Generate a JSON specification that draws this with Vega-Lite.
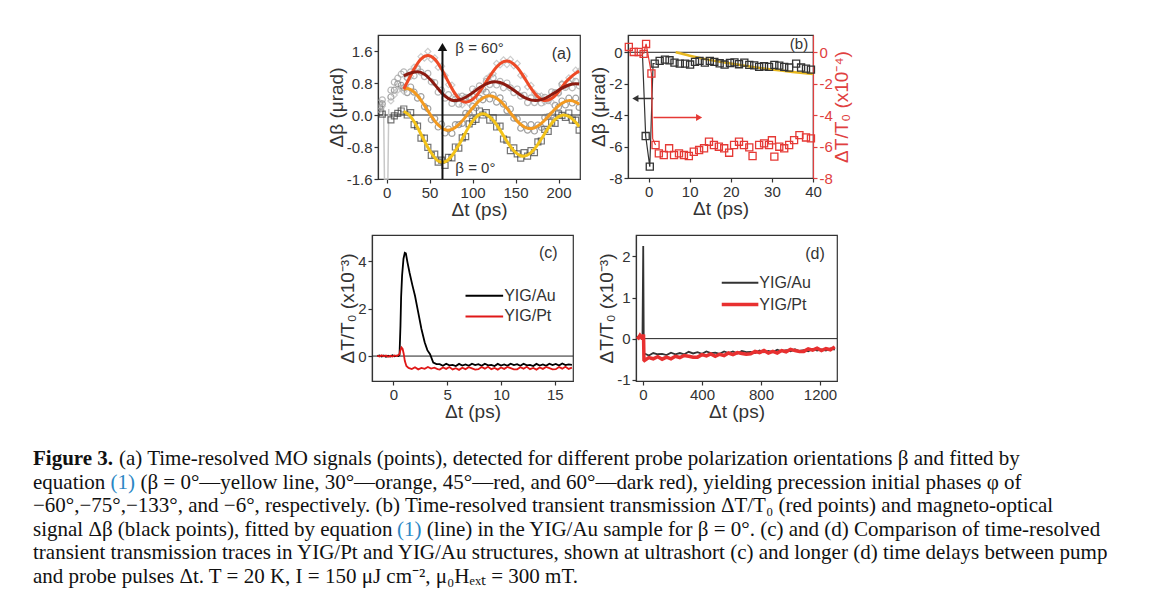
{
"$schema": "https://vega.github.io/schema/vega-lite/v6.json",
"padding": {"left": 33, "top": 34, "right": 0, "bottom": 0},
"background": "white",
"spacing": 14,
"config": {
  "font": "Liberation Sans",
  "view": {"stroke": null},
  "axis": {"labelFont": "Liberation Sans", "labelFontSize": 15, "labelColor": "#333", "titleFont": "Liberation Sans", "titleFontSize": 19, "titleFontWeight": "normal", "titleColor": "#333", "domainColor": "#333", "domainWidth": 1.2, "tickColor": "#333", "tickSize": 4, "tickWidth": 1.2, "grid": false, "labelPadding": 2, "titlePadding": 0, "labelFlush": false, "labelOverlap": false}
},
"datasets": {
  "a_pts": [
    {"s":"0","t":-8,"v":0.08},{"s":"0","t":-5,"v":0.02},{"s":"0","t":5,"v":-0.12},{"s":"0","t":9,"v":-0.02},{"s":"0","t":13,"v":0.04},{"s":"0","t":17,"v":0.1},
    {"s":"0","t":20,"v":0.15},{"s":"0","t":24,"v":0.0},{"s":"0","t":28,"v":0.06},{"s":"0","t":32,"v":-0.24},{"s":"0","t":36,"v":-0.28},{"s":"0","t":40,"v":-0.58},{"s":"0","t":44,"v":-0.58},{"s":"0","t":48,"v":-0.81},{"s":"0","t":52,"v":-1.01},{"s":"0","t":56,"v":-0.98},{"s":"0","t":60,"v":-1.18},{"s":"0","t":64,"v":-1.13},{"s":"0","t":68,"v":-1.26},{"s":"0","t":72,"v":-1.06},{"s":"0","t":76,"v":-1.07},{"s":"0","t":80,"v":-0.8},{"s":"0","t":84,"v":-0.83},{"s":"0","t":88,"v":-0.57},{"s":"0","t":92,"v":-0.54},{"s":"0","t":96,"v":-0.22},{"s":"0","t":100,"v":-0.16},{"s":"0","t":104,"v":-0.11},{"s":"0","t":108,"v":0.1},{"s":"0","t":112,"v":0.0},{"s":"0","t":116,"v":0.06},{"s":"0","t":120,"v":-0.13},{"s":"0","t":124,"v":-0.07},{"s":"0","t":128,"v":-0.3},{"s":"0","t":132,"v":-0.28},{"s":"0","t":136,"v":-0.6},{"s":"0","t":140,"v":-0.63},{"s":"0","t":144,"v":-0.89},{"s":"0","t":148,"v":-0.82},{"s":"0","t":152,"v":-0.97},{"s":"0","t":156,"v":-1.08},{"s":"0","t":160,"v":-0.94},{"s":"0","t":164,"v":-1.03},{"s":"0","t":168,"v":-0.89},{"s":"0","t":172,"v":-0.94},{"s":"0","t":176,"v":-0.67},{"s":"0","t":180,"v":-0.65},{"s":"0","t":184,"v":-0.36},{"s":"0","t":188,"v":-0.41},{"s":"0","t":192,"v":-0.18},{"s":"0","t":196,"v":-0.21},{"s":"0","t":200,"v":0.03},{"s":"0","t":204,"v":-0.01},{"s":"0","t":208,"v":-0.06},{"s":"0","t":212,"v":0.05},{"s":"0","t":216,"v":-0.13},{"s":"0","t":220,"v":-0.13},{"s":"0","t":224,"v":-0.38},
    {"s":"30","t":-8,"v":0.2},{"s":"30","t":-5,"v":0.28},{"s":"30","t":5,"v":0.45},{"s":"30","t":9,"v":0.62},{"s":"30","t":13,"v":0.78},{"s":"30","t":17,"v":0.74},
    {"s":"30","t":20,"v":0.68},{"s":"30","t":24,"v":0.56},{"s":"30","t":28,"v":0.7},{"s":"30","t":32,"v":0.57},{"s":"30","t":36,"v":0.42},{"s":"30","t":40,"v":0.46},{"s":"30","t":44,"v":0.21},{"s":"30","t":48,"v":0.16},{"s":"30","t":52,"v":-0.12},{"s":"30","t":56,"v":-0.09},{"s":"30","t":60,"v":-0.3},{"s":"30","t":64,"v":-0.23},{"s":"30","t":68,"v":-0.45},{"s":"30","t":72,"v":-0.35},{"s":"30","t":76,"v":-0.46},{"s":"30","t":80,"v":-0.24},{"s":"30","t":84,"v":-0.24},{"s":"30","t":88,"v":-0.21},{"s":"30","t":92,"v":0.04},{"s":"30","t":96,"v":0.03},{"s":"30","t":100,"v":0.22},{"s":"30","t":104,"v":0.18},{"s":"30","t":108,"v":0.42},{"s":"30","t":112,"v":0.38},{"s":"30","t":116,"v":0.57},{"s":"30","t":120,"v":0.4},{"s":"30","t":124,"v":0.5},{"s":"30","t":128,"v":0.32},{"s":"30","t":132,"v":0.43},{"s":"30","t":136,"v":0.27},{"s":"30","t":140,"v":0.11},{"s":"30","t":144,"v":0.15},{"s":"30","t":148,"v":-0.08},{"s":"30","t":152,"v":-0.1},{"s":"30","t":156,"v":-0.33},{"s":"30","t":160,"v":-0.24},{"s":"30","t":164,"v":-0.38},{"s":"30","t":168,"v":-0.24},{"s":"30","t":172,"v":-0.4},{"s":"30","t":176,"v":-0.25},{"s":"30","t":180,"v":-0.31},{"s":"30","t":184,"v":-0.06},{"s":"30","t":188,"v":-0.04},{"s":"30","t":192,"v":0.0},{"s":"30","t":196,"v":0.24},{"s":"30","t":200,"v":0.2},{"s":"30","t":204,"v":0.35},{"s":"30","t":208,"v":0.25},{"s":"30","t":212,"v":0.42},{"s":"30","t":216,"v":0.3},{"s":"30","t":220,"v":0.42},{"s":"30","t":224,"v":0.19},
    {"s":"45","t":-8,"v":0.12},{"s":"45","t":-5,"v":0.22},{"s":"45","t":5,"v":0.35},{"s":"45","t":9,"v":0.5},{"s":"45","t":13,"v":0.62},{"s":"45","t":17,"v":0.66},
    {"s":"45","t":20,"v":0.59},{"s":"45","t":24,"v":0.91},{"s":"45","t":28,"v":0.96},{"s":"45","t":32,"v":1.2},{"s":"45","t":36,"v":1.2},{"s":"45","t":40,"v":1.46},{"s":"45","t":44,"v":1.42},{"s":"45","t":48,"v":1.59},{"s":"45","t":52,"v":1.39},{"s":"45","t":56,"v":1.43},{"s":"45","t":60,"v":1.19},{"s":"45","t":64,"v":1.22},{"s":"45","t":68,"v":0.99},{"s":"45","t":72,"v":0.76},{"s":"45","t":76,"v":0.75},{"s":"45","t":80,"v":0.49},{"s":"45","t":84,"v":0.46},{"s":"45","t":88,"v":0.25},{"s":"45","t":92,"v":0.38},{"s":"45","t":96,"v":0.29},{"s":"45","t":100,"v":0.49},{"s":"45","t":104,"v":0.39},{"s":"45","t":108,"v":0.61},{"s":"45","t":112,"v":0.6},{"s":"45","t":116,"v":0.91},{"s":"45","t":120,"v":0.97},{"s":"45","t":124,"v":1.03},{"s":"45","t":128,"v":1.29},{"s":"45","t":132,"v":1.25},{"s":"45","t":136,"v":1.38},{"s":"45","t":140,"v":1.26},{"s":"45","t":144,"v":1.39},{"s":"45","t":148,"v":1.23},{"s":"45","t":152,"v":1.29},{"s":"45","t":156,"v":0.99},{"s":"45","t":160,"v":0.97},{"s":"45","t":164,"v":0.7},{"s":"45","t":168,"v":0.74},{"s":"45","t":172,"v":0.55},{"s":"45","t":176,"v":0.4},{"s":"45","t":180,"v":0.48},{"s":"45","t":184,"v":0.33},{"s":"45","t":188,"v":0.42},{"s":"45","t":192,"v":0.32},{"s":"45","t":196,"v":0.54},{"s":"45","t":200,"v":0.53},{"s":"45","t":204,"v":0.79},{"s":"45","t":208,"v":0.73},{"s":"45","t":212,"v":0.93},{"s":"45","t":216,"v":0.88},{"s":"45","t":220,"v":1.12},{"s":"45","t":224,"v":1.1},
    {"s":"60","t":-8,"v":0.3},{"s":"60","t":-5,"v":0.38},{"s":"60","t":5,"v":0.62},{"s":"60","t":9,"v":0.82},{"s":"60","t":13,"v":0.92},{"s":"60","t":17,"v":1.02},
    {"s":"60","t":20,"v":1.08},{"s":"60","t":24,"v":0.94},{"s":"60","t":28,"v":1.08},{"s":"60","t":32,"v":0.98},{"s":"60","t":36,"v":1.15},{"s":"60","t":40,"v":1.07},{"s":"60","t":44,"v":0.96},{"s":"60","t":48,"v":1.04},{"s":"60","t":52,"v":0.83},{"s":"60","t":56,"v":0.81},{"s":"60","t":60,"v":0.57},{"s":"60","t":64,"v":0.62},{"s":"60","t":68,"v":0.42},{"s":"60","t":72,"v":0.51},{"s":"60","t":76,"v":0.29},{"s":"60","t":80,"v":0.39},{"s":"60","t":84,"v":0.27},{"s":"60","t":88,"v":0.47},{"s":"60","t":92,"v":0.44},{"s":"60","t":96,"v":0.44},{"s":"60","t":100,"v":0.65},{"s":"60","t":104,"v":0.59},{"s":"60","t":108,"v":0.73},{"s":"60","t":112,"v":0.65},{"s":"60","t":116,"v":0.84},{"s":"60","t":120,"v":0.76},{"s":"60","t":124,"v":0.93},{"s":"60","t":128,"v":0.75},{"s":"60","t":132,"v":0.84},{"s":"60","t":136,"v":0.68},{"s":"60","t":140,"v":0.8},{"s":"60","t":144,"v":0.68},{"s":"60","t":148,"v":0.56},{"s":"60","t":152,"v":0.65},{"s":"60","t":156,"v":0.47},{"s":"60","t":160,"v":0.49},{"s":"60","t":164,"v":0.31},{"s":"60","t":168,"v":0.43},{"s":"60","t":172,"v":0.31},{"s":"60","t":176,"v":0.46},{"s":"60","t":180,"v":0.3},{"s":"60","t":184,"v":0.44},{"s":"60","t":188,"v":0.36},{"s":"60","t":192,"v":0.58},{"s":"60","t":196,"v":0.56},{"s":"60","t":200,"v":0.56},{"s":"60","t":204,"v":0.76},{"s":"60","t":208,"v":0.69},{"s":"60","t":212,"v":0.8},{"s":"60","t":216,"v":0.68},{"s":"60","t":220,"v":0.84},{"s":"60","t":224,"v":0.73}
  ],
  "a_fit": [
    {"s":"0","t":20,"v":0.094},{"s":"0","t":28,"v":-0.04},{"s":"0","t":36,"v":-0.31},{"s":"0","t":44,"v":-0.65},{"s":"0","t":52,"v":-0.95},{"s":"0","t":60,"v":-1.15},{"s":"0","t":65,"v":-1.18},{"s":"0","t":68,"v":-1.17},{"s":"0","t":76,"v":-1.02},{"s":"0","t":84,"v":-0.75},{"s":"0","t":92,"v":-0.435},{"s":"0","t":100,"v":-0.155},{"s":"0","t":108,"v":0.009},{"s":"0","t":112,"v":0.03},{"s":"0","t":116,"v":0.011},{"s":"0","t":124,"v":-0.132},{"s":"0","t":132,"v":-0.377},{"s":"0","t":140,"v":-0.657},{"s":"0","t":148,"v":-0.894},{"s":"0","t":156,"v":-1.019},{"s":"0","t":159,"v":-1.03},{"s":"0","t":164,"v":-1.0},{"s":"0","t":172,"v":-0.848},{"s":"0","t":180,"v":-0.6},{"s":"0","t":188,"v":-0.33},{"s":"0","t":196,"v":-0.11},{"s":"0","t":204,"v":-0.005},{"s":"0","t":206,"v":0.0},{"s":"0","t":212,"v":-0.036},{"s":"0","t":220,"v":-0.183},{"s":"0","t":224,"v":-0.29},
    {"s":"30","t":20,"v":0.65},{"s":"30","t":23,"v":0.66},{"s":"30","t":28,"v":0.632},{"s":"30","t":36,"v":0.483},{"s":"30","t":44,"v":0.241},{"s":"30","t":52,"v":-0.027},{"s":"30","t":60,"v":-0.251},{"s":"30","t":68,"v":-0.37},{"s":"30","t":71,"v":-0.38},{"s":"30","t":76,"v":-0.358},{"s":"30","t":84,"v":-0.239},{"s":"30","t":92,"v":-0.046},{"s":"30","t":100,"v":0.173},{"s":"30","t":108,"v":0.359},{"s":"30","t":116,"v":0.466},{"s":"30","t":120,"v":0.48},{"s":"30","t":124,"v":0.465},{"s":"30","t":132,"v":0.355},{"s":"30","t":140,"v":0.165},{"s":"30","t":148,"v":-0.051},{"s":"30","t":156,"v":-0.235},{"s":"30","t":164,"v":-0.332},{"s":"30","t":167,"v":-0.34},{"s":"30","t":172,"v":-0.32},{"s":"30","t":180,"v":-0.211},{"s":"30","t":188,"v":-0.038},{"s":"30","t":196,"v":0.149},{"s":"30","t":204,"v":0.296},{"s":"30","t":213,"v":0.36},{"s":"30","t":220,"v":0.322},{"s":"30","t":224,"v":0.269},
    {"s":"45","t":20,"v":0.65},{"s":"45","t":24,"v":0.818},{"s":"45","t":32,"v":1.15},{"s":"45","t":40,"v":1.399},{"s":"45","t":48,"v":1.49},{"s":"45","t":56,"v":1.397},{"s":"45","t":64,"v":1.148},{"s":"45","t":72,"v":0.822},{"s":"45","t":80,"v":0.522},{"s":"45","t":88,"v":0.344},{"s":"45","t":92,"v":0.32},{"s":"45","t":96,"v":0.338},{"s":"45","t":104,"v":0.471},{"s":"45","t":112,"v":0.702},{"s":"45","t":120,"v":0.968},{"s":"45","t":128,"v":1.199},{"s":"45","t":136,"v":1.332},{"s":"45","t":140,"v":1.35},{"s":"45","t":144,"v":1.331},{"s":"45","t":152,"v":1.186},{"s":"45","t":160,"v":0.941},{"s":"45","t":168,"v":0.669},{"s":"45","t":176,"v":0.455},{"s":"45","t":185,"v":0.36},{"s":"45","t":192,"v":0.411},{"s":"45","t":200,"v":0.577},{"s":"45","t":208,"v":0.814},{"s":"45","t":216,"v":0.98},{"s":"45","t":224,"v":1.1},
    {"s":"60","t":20,"v":0.98},{"s":"60","t":28,"v":1.05},{"s":"60","t":36,"v":1.08},{"s":"60","t":44,"v":1.02},{"s":"60","t":52,"v":0.861},{"s":"60","t":60,"v":0.655},{"s":"60","t":68,"v":0.47},{"s":"60","t":76,"v":0.369},{"s":"60","t":79,"v":0.36},{"s":"60","t":84,"v":0.373},{"s":"60","t":92,"v":0.443},{"s":"60","t":100,"v":0.556},{"s":"60","t":108,"v":0.679},{"s":"60","t":116,"v":0.78},{"s":"60","t":126,"v":0.83},{"s":"60","t":132,"v":0.811},{"s":"60","t":140,"v":0.734},{"s":"60","t":148,"v":0.619},{"s":"60","t":156,"v":0.496},{"s":"60","t":164,"v":0.401},{"s":"60","t":173,"v":0.36},{"s":"60","t":180,"v":0.383},{"s":"60","t":188,"v":0.457},{"s":"60","t":196,"v":0.563},{"s":"60","t":204,"v":0.671},{"s":"60","t":212,"v":0.751},{"s":"60","t":220,"v":0.78},{"s":"60","t":224,"v":0.778}
  ],
  "a_spike": [{"t":-3.5,"v":0.2},{"t":-2.5,"v":-1.6},{"t":1.5,"v":-1.6},{"t":2.5,"v":0.15}],
  "b_blk": [
    {"t":-0.7,"v":-5.33},{"t":0.3,"v":-7.28},{"t":1.5,"v":-0.72},{"t":2.7,"v":-0.55},{"t":4.0,"v":-0.47},{"t":5.1,"v":-0.51},{"t":6.3,"v":-0.66},{"t":7.6,"v":-0.72},{"t":8.9,"v":-0.72},{"t":10.1,"v":-0.78},{"t":11.3,"v":-0.61},{"t":12.4,"v":-0.55},{"t":13.7,"v":-0.66},{"t":14.9,"v":-0.55},{"t":16.0,"v":-0.61},{"t":17.3,"v":-0.7},{"t":18.5,"v":-0.78},{"t":19.8,"v":-0.68},{"t":20.9,"v":-0.64},{"t":22.0,"v":-0.76},{"t":23.3,"v":-0.66},{"t":24.5,"v":-0.8},{"t":25.7,"v":-0.83},{"t":26.9,"v":-0.93},{"t":28.1,"v":-0.89},{"t":29.3,"v":-0.93},{"t":30.6,"v":-0.8},{"t":31.8,"v":-0.85},{"t":33.0,"v":-0.93},{"t":34.2,"v":-0.97},{"t":35.9,"v":-0.72},{"t":37.1,"v":-0.97},{"t":38.3,"v":-1.04},{"t":39.5,"v":-1.1}
  ],
  "b_blkline": [{"t":-1.5,"v":0.0},{"t":-0.7,"v":-5.33},{"t":0.3,"v":-7.28},{"t":1.1,"v":-0.72},{"t":1.5,"v":-0.72}],
  "b_red": [
    {"t":-4.8,"v":0.34},{"t":-3.6,"v":0.02},{"t":-2.4,"v":0.02},{"t":-1.2,"v":-0.1},{"t":-0.6,"v":0.53},{"t":0.7,"v":-1.35},{"t":1.7,"v":-5.9},{"t":2.5,"v":-6.43},{"t":3.7,"v":-6.54},{"t":5.0,"v":-6.11},{"t":6.2,"v":-6.54},{"t":7.4,"v":-6.43},{"t":8.6,"v":-6.54},{"t":9.8,"v":-6.6},{"t":11.0,"v":-6.33},{"t":12.3,"v":-6.22},{"t":13.5,"v":-6.11},{"t":14.7,"v":-5.69},{"t":15.9,"v":-5.9},{"t":17.1,"v":-6.01},{"t":18.4,"v":-6.11},{"t":19.6,"v":-6.39},{"t":20.8,"v":-5.9},{"t":22.0,"v":-5.69},{"t":23.2,"v":-5.9},{"t":24.5,"v":-6.05},{"t":25.3,"v":-6.6},{"t":26.9,"v":-5.9},{"t":28.1,"v":-5.8},{"t":29.3,"v":-5.9},{"t":30.0,"v":-5.6},{"t":30.6,"v":-6.64},{"t":31.8,"v":-6.01},{"t":33.0,"v":-6.11},{"t":34.2,"v":-5.9},{"t":35.4,"v":-5.59},{"t":36.7,"v":-5.27},{"t":38.3,"v":-5.42},{"t":39.5,"v":-5.48}
  ],
  "b_redline": [{"t":-1.2,"v":-0.1},{"t":-0.6,"v":0.53},{"t":0.7,"v":-1.35},{"t":1.0,"v":-5.5},{"t":1.7,"v":-5.9}],
  "b_fit": [{"t":6.6,"v":0.0},{"t":10,"v":-0.22},{"t":15,"v":-0.5},{"t":20,"v":-0.72},{"t":25,"v":-0.92},{"t":30,"v":-1.1},{"t":35,"v":-1.25},{"t":40,"v":-1.38}],
  "c_tr": [
    {"s":"Au","t":-1.5,"v":0.0},{"s":"Au","t":-1.3,"v":0.03},{"s":"Au","t":-1.1,"v":-0.02},{"s":"Au","t":-0.9,"v":0.02},{"s":"Au","t":-0.7,"v":-0.03},{"s":"Au","t":-0.5,"v":0.01},{"s":"Au","t":-0.3,"v":-0.02},{"s":"Au","t":-0.1,"v":0.03},{"s":"Au","t":0.1,"v":-0.01},{"s":"Au","t":0.3,"v":0.02},{"s":"Au","t":0.45,"v":0.0},{"s":"Au","t":0.56,"v":0.05},{"s":"Au","t":0.65,"v":1.3},{"s":"Au","t":0.71,"v":2.5},{"s":"Au","t":0.8,"v":3.4},{"s":"Au","t":0.93,"v":4.1},{"s":"Au","t":1.05,"v":4.35},{"s":"Au","t":1.15,"v":4.33},{"s":"Au","t":1.3,"v":3.95},{"s":"Au","t":1.5,"v":3.5},{"s":"Au","t":1.75,"v":3.0},{"s":"Au","t":2.0,"v":2.54},{"s":"Au","t":2.3,"v":1.84},{"s":"Au","t":2.6,"v":1.14},{"s":"Au","t":2.9,"v":0.58},{"s":"Au","t":3.15,"v":0.25},{"s":"Au","t":3.4,"v":0.08},{"s":"Au","t":3.7,"v":-0.27},{"s":"Au","t":4.0,"v":-0.34},
    {"s":"Au","t":4.3,"v":-0.34},{"s":"Au","t":4.6,"v":-0.41},{"s":"Au","t":4.9,"v":-0.32},{"s":"Au","t":5.2,"v":-0.39},{"s":"Au","t":5.5,"v":-0.37},{"s":"Au","t":5.8,"v":-0.42},{"s":"Au","t":6.1,"v":-0.33},{"s":"Au","t":6.4,"v":-0.4},{"s":"Au","t":6.7,"v":-0.35},{"s":"Au","t":7.0,"v":-0.41},{"s":"Au","t":7.3,"v":-0.32},{"s":"Au","t":7.6,"v":-0.38},{"s":"Au","t":7.9,"v":-0.34},{"s":"Au","t":8.2,"v":-0.41},{"s":"Au","t":8.5,"v":-0.32},{"s":"Au","t":8.8,"v":-0.39},{"s":"Au","t":9.1,"v":-0.37},{"s":"Au","t":9.4,"v":-0.42},{"s":"Au","t":9.7,"v":-0.33},{"s":"Au","t":10.0,"v":-0.4},{"s":"Au","t":10.3,"v":-0.35},{"s":"Au","t":10.6,"v":-0.41},{"s":"Au","t":10.9,"v":-0.32},{"s":"Au","t":11.2,"v":-0.38},{"s":"Au","t":11.5,"v":-0.34},{"s":"Au","t":11.8,"v":-0.41},{"s":"Au","t":12.1,"v":-0.32},{"s":"Au","t":12.4,"v":-0.39},{"s":"Au","t":12.7,"v":-0.37},{"s":"Au","t":13.0,"v":-0.42},{"s":"Au","t":13.3,"v":-0.33},{"s":"Au","t":13.6,"v":-0.4},{"s":"Au","t":13.9,"v":-0.35},{"s":"Au","t":14.2,"v":-0.41},{"s":"Au","t":14.5,"v":-0.32},{"s":"Au","t":14.8,"v":-0.38},{"s":"Au","t":15.1,"v":-0.33},{"s":"Au","t":15.4,"v":-0.4},{"s":"Au","t":15.7,"v":-0.31},{"s":"Au","t":16.0,"v":-0.38},{"s":"Au","t":16.3,"v":-0.35},{"s":"Au","t":16.6,"v":-0.37},
    {"s":"Pt","t":-1.5,"v":0.02},{"s":"Pt","t":-1.3,"v":-0.02},{"s":"Pt","t":-1.1,"v":0.03},{"s":"Pt","t":-0.9,"v":-0.01},{"s":"Pt","t":-0.7,"v":0.02},{"s":"Pt","t":-0.5,"v":-0.03},{"s":"Pt","t":-0.3,"v":0.01},{"s":"Pt","t":-0.1,"v":-0.02},{"s":"Pt","t":0.1,"v":0.03},{"s":"Pt","t":0.3,"v":0.0},{"s":"Pt","t":0.45,"v":0.04},{"s":"Pt","t":0.55,"v":0.08},{"s":"Pt","t":0.65,"v":0.25},{"s":"Pt","t":0.75,"v":0.36},{"s":"Pt","t":0.85,"v":0.3},{"s":"Pt","t":0.95,"v":0.1},{"s":"Pt","t":1.05,"v":-0.2},{"s":"Pt","t":1.2,"v":-0.42},{"s":"Pt","t":1.4,"v":-0.5},{"s":"Pt","t":1.7,"v":-0.55},{"s":"Pt","t":2.0,"v":-0.47},{"s":"Pt","t":2.3,"v":-0.56},{"s":"Pt","t":2.6,"v":-0.5},{"s":"Pt","t":2.9,"v":-0.54},{"s":"Pt","t":3.2,"v":-0.46},{"s":"Pt","t":3.5,"v":-0.53},{"s":"Pt","t":3.8,"v":-0.49},{"s":"Pt","t":4.1,"v":-0.55},
    {"s":"Pt","t":4.3,"v":-0.57},{"s":"Pt","t":4.6,"v":-0.48},{"s":"Pt","t":4.9,"v":-0.54},{"s":"Pt","t":5.2,"v":-0.46},{"s":"Pt","t":5.5,"v":-0.56},{"s":"Pt","t":5.8,"v":-0.51},{"s":"Pt","t":6.1,"v":-0.58},{"s":"Pt","t":6.4,"v":-0.49},{"s":"Pt","t":6.7,"v":-0.55},{"s":"Pt","t":7.0,"v":-0.47},{"s":"Pt","t":7.3,"v":-0.52},{"s":"Pt","t":7.6,"v":-0.57},{"s":"Pt","t":7.9,"v":-0.55},{"s":"Pt","t":8.2,"v":-0.46},{"s":"Pt","t":8.5,"v":-0.53},{"s":"Pt","t":8.8,"v":-0.45},{"s":"Pt","t":9.1,"v":-0.55},{"s":"Pt","t":9.4,"v":-0.5},{"s":"Pt","t":9.7,"v":-0.57},{"s":"Pt","t":10.0,"v":-0.48},{"s":"Pt","t":10.3,"v":-0.54},{"s":"Pt","t":10.6,"v":-0.46},{"s":"Pt","t":10.9,"v":-0.51},{"s":"Pt","t":11.2,"v":-0.56},{"s":"Pt","t":11.5,"v":-0.56},{"s":"Pt","t":11.8,"v":-0.47},{"s":"Pt","t":12.1,"v":-0.53},{"s":"Pt","t":12.4,"v":-0.45},{"s":"Pt","t":12.7,"v":-0.55},{"s":"Pt","t":13.0,"v":-0.5},{"s":"Pt","t":13.3,"v":-0.57},{"s":"Pt","t":13.6,"v":-0.48},{"s":"Pt","t":13.9,"v":-0.54},{"s":"Pt","t":14.2,"v":-0.46},{"s":"Pt","t":14.5,"v":-0.51},{"s":"Pt","t":14.8,"v":-0.56},{"s":"Pt","t":15.1,"v":-0.55},{"s":"Pt","t":15.4,"v":-0.46},{"s":"Pt","t":15.7,"v":-0.53},{"s":"Pt","t":16.0,"v":-0.45},{"s":"Pt","t":16.3,"v":-0.54},{"s":"Pt","t":16.6,"v":-0.49}
  ],
  "d_tr": [
    {"s":"Au","t":-40,"v":0.05},{"s":"Au","t":-30,"v":0.03},{"s":"Au","t":-20,"v":0.07},{"s":"Au","t":-10,"v":0.04},{"s":"Au","t":-3,"v":0.05},{"s":"Au","t":2,"v":2.25},{"s":"Au","t":6,"v":-0.42},{"s":"Au","t":10,"v":-0.36},{"s":"Au","t":40,"v":-0.41},{"s":"Au","t":70,"v":-0.35},{"s":"Au","t":100,"v":-0.38},{"s":"Au","t":130,"v":-0.37},{"s":"Au","t":160,"v":-0.4},{"s":"Au","t":190,"v":-0.34},{"s":"Au","t":220,"v":-0.38},{"s":"Au","t":250,"v":-0.35},{"s":"Au","t":280,"v":-0.38},{"s":"Au","t":310,"v":-0.32},{"s":"Au","t":340,"v":-0.36},{"s":"Au","t":370,"v":-0.33},{"s":"Au","t":400,"v":-0.37},{"s":"Au","t":430,"v":-0.31},{"s":"Au","t":460,"v":-0.35},{"s":"Au","t":490,"v":-0.34},{"s":"Au","t":520,"v":-0.37},{"s":"Au","t":550,"v":-0.31},{"s":"Au","t":580,"v":-0.35},{"s":"Au","t":610,"v":-0.31},{"s":"Au","t":640,"v":-0.36},{"s":"Au","t":670,"v":-0.3},{"s":"Au","t":700,"v":-0.33},{"s":"Au","t":730,"v":-0.32},{"s":"Au","t":760,"v":-0.35},{"s":"Au","t":790,"v":-0.29},{"s":"Au","t":820,"v":-0.33},{"s":"Au","t":850,"v":-0.3},{"s":"Au","t":880,"v":-0.33},{"s":"Au","t":910,"v":-0.27},{"s":"Au","t":940,"v":-0.31},{"s":"Au","t":970,"v":-0.28},{"s":"Au","t":1000,"v":-0.31},{"s":"Au","t":1030,"v":-0.26},{"s":"Au","t":1060,"v":-0.3},{"s":"Au","t":1090,"v":-0.28},{"s":"Au","t":1120,"v":-0.31},{"s":"Au","t":1150,"v":-0.25},{"s":"Au","t":1180,"v":-0.29},{"s":"Au","t":1210,"v":-0.26},{"s":"Au","t":1240,"v":-0.29},{"s":"Au","t":1270,"v":-0.24},{"s":"Au","t":1300,"v":-0.27},
    {"s":"Pt","t":-40,"v":0.05},{"s":"Pt","t":-30,"v":0.02},{"s":"Pt","t":-20,"v":0.08},{"s":"Pt","t":-10,"v":0.03},{"s":"Pt","t":0,"v":0.06},{"s":"Pt","t":4,"v":0.1},{"s":"Pt","t":7,"v":-0.52},{"s":"Pt","t":10,"v":-0.53},{"s":"Pt","t":40,"v":-0.46},{"s":"Pt","t":70,"v":-0.49},{"s":"Pt","t":100,"v":-0.44},{"s":"Pt","t":130,"v":-0.5},{"s":"Pt","t":160,"v":-0.45},{"s":"Pt","t":190,"v":-0.49},{"s":"Pt","t":220,"v":-0.43},{"s":"Pt","t":250,"v":-0.46},{"s":"Pt","t":280,"v":-0.41},{"s":"Pt","t":310,"v":-0.43},{"s":"Pt","t":340,"v":-0.45},{"s":"Pt","t":370,"v":-0.45},{"s":"Pt","t":400,"v":-0.39},{"s":"Pt","t":430,"v":-0.42},{"s":"Pt","t":460,"v":-0.37},{"s":"Pt","t":490,"v":-0.43},{"s":"Pt","t":520,"v":-0.38},{"s":"Pt","t":550,"v":-0.41},{"s":"Pt","t":580,"v":-0.35},{"s":"Pt","t":610,"v":-0.39},{"s":"Pt","t":640,"v":-0.34},{"s":"Pt","t":670,"v":-0.36},{"s":"Pt","t":700,"v":-0.38},{"s":"Pt","t":730,"v":-0.37},{"s":"Pt","t":760,"v":-0.31},{"s":"Pt","t":790,"v":-0.34},{"s":"Pt","t":820,"v":-0.29},{"s":"Pt","t":850,"v":-0.35},{"s":"Pt","t":880,"v":-0.31},{"s":"Pt","t":910,"v":-0.35},{"s":"Pt","t":940,"v":-0.29},{"s":"Pt","t":970,"v":-0.32},{"s":"Pt","t":1000,"v":-0.26},{"s":"Pt","t":1030,"v":-0.29},{"s":"Pt","t":1060,"v":-0.31},{"s":"Pt","t":1090,"v":-0.31},{"s":"Pt","t":1120,"v":-0.25},{"s":"Pt","t":1150,"v":-0.28},{"s":"Pt","t":1180,"v":-0.23},{"s":"Pt","t":1210,"v":-0.29},{"s":"Pt","t":1240,"v":-0.24},{"s":"Pt","t":1270,"v":-0.27},{"s":"Pt","t":1300,"v":-0.2}
  ],
  "cap": [
    {"line":1,"col":0,"k":"b","txt":"Figure 3."},
    {"line":1,"col":0,"k":"r1","txt":"(a) Time-resolved MO signals (points), detected for different probe polarization orientations β and fitted by"},
    {"line":2,"col":0,"k":"n","txt":"equation"},
    {"line":2,"col":0,"k":"q2","txt":"(1)"},
    {"line":2,"col":0,"k":"s2","txt":"(β = 0°—yellow line, 30°—orange, 45°—red, and 60°—dark red), yielding precession initial phases φ of"},
    {"line":3,"col":0,"k":"n","txt":"−60°,−75°,−133°, and −6°, respectively. (b) Time-resolved transient transmission ΔT/T₀ (red points) and magneto-optical"},
    {"line":4,"col":0,"k":"n","txt":"signal Δβ (black points), fitted by equation"},
    {"line":4,"col":0,"k":"q4","txt":"(1)"},
    {"line":4,"col":0,"k":"s4","txt":"(line) in the YIG/Au sample for β = 0°. (c) and (d) Comparison of time-resolved"},
    {"line":5,"col":0,"k":"n","txt":"transient transmission traces in YIG/Pt and YIG/Au structures, shown at ultrashort (c) and longer (d) time delays between pump"},
    {"line":6,"col":0,"k":"n","txt":"and probe pulses Δt. T = 20 K, I = 150 μJ cm⁻², μ₀Hₑₓₜ = 300 mT."}
  ]
},
"vconcat": [
  {"spacing": 0, "hconcat": [
    {"width": 293, "height": 5, "data": {"values": [{"z": 0}]}, "mark": {"type": "point", "opacity": 0}, "encoding": {}},
    {
      "width": 202, "height": 144,
      "view": {"stroke": "#333", "strokeWidth": 1.2},
      "encoding": {
        "x": {"field": "t", "type": "quantitative", "scale": {"domain": [-10, 225], "nice": false, "zero": false}, "axis": {"title": "Δt (ps)", "values": [0, 50, 100, 150, 200]}},
        "y": {"field": "v", "type": "quantitative", "scale": {"domain": [-1.6, 2.0], "nice": false, "zero": false}, "axis": {"title": "Δβ (μrad)", "values": [-1.6, -0.8, 0, 0.8, 1.6], "format": ".1f", "labelExpr": "replace(datum.label, '−', '-')"}}
      },
      "layer": [
        {"data": {"values": [{"t": -10, "t2": 225, "v": 0}]}, "mark": {"type": "rule", "color": "#222", "strokeWidth": 1}, "encoding": {"x2": {"field": "t2"}}},
        {"data": {"name": "a_spike"}, "mark": {"type": "line", "color": "#c8c8c8", "strokeWidth": 1.5}, "encoding": {}},
        {"data": {"name": "a_pts"}, "mark": {"type": "point", "filled": false, "size": 36, "strokeWidth": 1.2, "clip": true},
         "encoding": {
           "shape": {"field": "s", "type": "nominal", "scale": {"domain": ["0", "30", "45", "60"], "range": ["square", "circle", "diamond", "circle"]}, "legend": null},
           "color": {"field": "s", "type": "nominal", "scale": {"domain": ["0", "30", "45", "60"], "range": ["#3a3a3a", "#7a7a7a", "#b8b8b8", "#9c9c9c"]}, "legend": null}
         }},
        {"data": {"name": "a_fit"}, "mark": {"type": "line", "interpolate": "monotone", "strokeWidth": 3, "clip": true},
         "encoding": {"color": {"field": "s", "type": "nominal", "scale": {"domain": ["0", "30", "45", "60"], "range": ["#f3c31a", "#f39a20", "#ee4a26", "#8c1a10"]}, "legend": null}}},
        {"data": {"values": [{"t": 65, "v": -1.6, "v2": 1.62}]}, "mark": {"type": "rule", "color": "#111", "strokeWidth": 2}, "encoding": {"y2": {"field": "v2"}}},
        {"data": {"values": [{"t": 65, "v": 1.7}]}, "mark": {"type": "point", "shape": "triangle-up", "filled": true, "size": 90, "color": "#111", "opacity": 1}},
        {"data": {"values": [{"t": 80, "v": 1.68, "lab": "β = 60°"}, {"t": 80, "v": -1.33, "lab": "β = 0°"}]}, "mark": {"type": "text", "align": "left", "baseline": "middle", "fontSize": 15, "color": "#333"}, "encoding": {"text": {"field": "lab"}}},
        {"data": {"values": [{"t": 203.5, "v": 1.53, "lab": "(a)"}]}, "mark": {"type": "text", "align": "center", "baseline": "middle", "fontSize": 16, "color": "#333"}, "encoding": {"text": {"field": "lab"}}}
      ],
      "resolve": {"scale": {"color": "independent"}}
    },
    {"width": 5, "height": 5, "data": {"values": [{"z": 0}]}, "mark": {"type": "point", "opacity": 0}, "encoding": {}},
    {
      "width": 185, "height": 143,
      "view": {"stroke": "#333", "strokeWidth": 1.2},
      "layer": [
        {
          "encoding": {
            "x": {"field": "t", "type": "quantitative", "scale": {"domain": [-5, 40], "nice": false, "zero": false}, "axis": {"title": "Δt (ps)", "values": [0, 10, 20, 30, 40]}},
            "y": {"field": "v", "type": "quantitative", "scale": {"domain": [-8, 1.1], "nice": false, "zero": false}, "axis": {"title": "Δβ (μrad)", "values": [0, -2, -4, -6, -8], "labelExpr": "replace(datum.label, '−', '-')"}}
          },
          "layer": [
            {"data": {"values": [{"t": -5, "t2": 40, "v": 0}]}, "mark": {"type": "rule", "color": "#222", "strokeWidth": 1}, "encoding": {"x2": {"field": "t2"}}},
            {"data": {"name": "b_fit"}, "mark": {"type": "line", "color": "#e8b820", "strokeWidth": 2.5, "interpolate": "monotone"}, "encoding": {}},
            {"data": {"name": "b_blkline"}, "mark": {"type": "line", "color": "#333", "strokeWidth": 1.2}, "encoding": {}},
            {"data": {"name": "b_blk"}, "mark": {"type": "point", "shape": "square", "filled": false, "size": 50, "strokeWidth": 1.3, "color": "#333", "opacity": 1}},
            {"data": {"values": [{"t": 1.2, "t2": -3.2, "v": -2.94}]}, "mark": {"type": "rule", "color": "#333", "strokeWidth": 1.5}, "encoding": {"x2": {"field": "t2"}}},
            {"data": {"values": [{"t": -3.2, "v": -2.94}]}, "mark": {"type": "point", "shape": "triangle-left", "filled": true, "size": 50, "color": "#333", "opacity": 1}},
            {"data": {"values": [{"t": 36.6, "v": 0.55, "lab": "(b)"}]}, "mark": {"type": "text", "align": "center", "baseline": "middle", "fontSize": 15, "color": "#333"}, "encoding": {"text": {"field": "lab"}}}
          ]
        },
        {
          "encoding": {
            "x": {"field": "t", "type": "quantitative"},
            "y": {"field": "v", "type": "quantitative", "scale": {"domain": [-8, 1.1], "nice": false, "zero": false}, "axis": {"orient": "right", "title": "ΔT/T₀ (x10⁻⁴)", "titleAngle": 270, "titleBaseline": "top", "values": [0, -2, -4, -6, -8], "labelExpr": "replace(datum.label, '−', '-')", "domainColor": "#e04040", "tickColor": "#e04040", "labelColor": "#e04040", "titleColor": "#e04040"}}
          },
          "layer": [
            {"data": {"name": "b_redline"}, "mark": {"type": "line", "color": "#e53935", "strokeWidth": 1.2}, "encoding": {}},
            {"data": {"name": "b_red"}, "mark": {"type": "point", "shape": "square", "filled": false, "size": 50, "strokeWidth": 1.3, "color": "#e53935", "opacity": 1}},
            {"data": {"values": [{"t": 1.2, "t2": 12.3, "v": -4.15}]}, "mark": {"type": "rule", "color": "#e53935", "strokeWidth": 1.5}, "encoding": {"x2": {"field": "t2"}}},
            {"data": {"values": [{"t": 12.3, "v": -4.15}]}, "mark": {"type": "point", "shape": "triangle-right", "filled": true, "size": 50, "color": "#e53935", "opacity": 1}}
          ]
        }
      ],
      "resolve": {"scale": {"y": "independent"}}
    }
  ]},
  {"spacing": 0, "hconcat": [
    {"width": 305, "height": 5, "data": {"values": [{"z": 0}]}, "mark": {"type": "point", "opacity": 0}, "encoding": {}},
    {
      "width": 201, "height": 146,
      "view": {"stroke": "#333", "strokeWidth": 1.2},
      "encoding": {
        "x": {"field": "t", "type": "quantitative", "scale": {"domain": [-2, 16.7], "nice": false, "zero": false}, "axis": {"title": "Δt (ps)", "values": [0, 5, 10, 15]}},
        "y": {"field": "v", "type": "quantitative", "scale": {"domain": [-1.05, 5.1], "nice": false, "zero": false}, "axis": {"title": "ΔT/T₀ (x10⁻³)", "values": [0, 2, 4]}}
      },
      "layer": [
        {"data": {"values": [{"t": -2, "t2": 16.7, "v": 0}]}, "mark": {"type": "rule", "color": "#222", "strokeWidth": 1}, "encoding": {"x2": {"field": "t2"}}},
        {"data": {"name": "c_tr"}, "mark": {"type": "line", "strokeWidth": 1.8},
         "encoding": {"color": {"field": "s", "type": "nominal", "scale": {"domain": ["Au", "Pt"], "range": ["#000000", "#e01818"]}, "legend": null}}},
        {"data": {"values": [{"s": "Au", "t": 6.7, "t2": 10.2, "v": 2.54}, {"s": "Pt", "t": 6.7, "t2": 10.2, "v": 1.67}]}, "mark": {"type": "rule", "strokeWidth": 2},
         "encoding": {"x2": {"field": "t2"}, "color": {"field": "s", "type": "nominal", "scale": {"domain": ["Au", "Pt"], "range": ["#000000", "#e01818"]}, "legend": null}}},
        {"data": {"values": [{"t": 10.2, "v": 2.54, "lab": "YIG/Au"}, {"t": 10.2, "v": 1.67, "lab": "YIG/Pt"}]}, "mark": {"type": "text", "align": "left", "baseline": "middle", "fontSize": 16, "color": "#333", "dx": 1}, "encoding": {"text": {"field": "lab"}}},
        {"data": {"values": [{"t": 14.4, "v": 4.33, "lab": "(c)"}]}, "mark": {"type": "text", "align": "center", "baseline": "middle", "fontSize": 16, "color": "#333"}, "encoding": {"text": {"field": "lab"}}}
      ]
    },
    {"width": 20, "height": 5, "data": {"values": [{"z": 0}]}, "mark": {"type": "point", "opacity": 0}, "encoding": {}},
    {
      "width": 201, "height": 146,
      "view": {"stroke": "#333", "strokeWidth": 1.2},
      "encoding": {
        "x": {"field": "t", "type": "quantitative", "scale": {"domain": [-47, 1315], "nice": false, "zero": false}, "axis": {"title": "Δt (ps)", "values": [0, 400, 800, 1200], "format": "d"}},
        "y": {"field": "v", "type": "quantitative", "scale": {"domain": [-1.03, 2.52], "nice": false, "zero": false}, "axis": {"title": "ΔT/T₀ (x10⁻³)", "values": [-1, 0, 1, 2], "labelExpr": "replace(datum.label, '−', '-')"}}
      },
      "layer": [
        {"data": {"values": [{"t": -47, "t2": 1315, "v": 0}]}, "mark": {"type": "rule", "color": "#222", "strokeWidth": 1}, "encoding": {"x2": {"field": "t2"}}},
        {"data": {"name": "d_tr"}, "transform": [{"filter": "datum.s == 'Au'"}], "mark": {"type": "line", "strokeWidth": 1.8, "color": "#333"}, "encoding": {}},
        {"data": {"name": "d_tr"}, "transform": [{"filter": "datum.s == 'Pt'"}], "mark": {"type": "line", "strokeWidth": 3.5, "color": "#e83030"}, "encoding": {}},
        {"data": {"values": [{"t": 534, "t2": 782, "v": 1.36}]}, "mark": {"type": "rule", "strokeWidth": 2, "color": "#333"}, "encoding": {"x2": {"field": "t2"}}},
        {"data": {"values": [{"t": 534, "t2": 782, "v": 0.83}]}, "mark": {"type": "rule", "strokeWidth": 3.5, "color": "#e83030"}, "encoding": {"x2": {"field": "t2"}}},
        {"data": {"values": [{"t": 782, "v": 1.36, "lab": "YIG/Au"}, {"t": 782, "v": 0.83, "lab": "YIG/Pt"}]}, "mark": {"type": "text", "align": "left", "baseline": "middle", "fontSize": 16, "color": "#333", "dx": 1}, "encoding": {"text": {"field": "lab"}}},
        {"data": {"values": [{"t": 1166, "v": 2.07, "lab": "(d)"}]}, "mark": {"type": "text", "align": "center", "baseline": "middle", "fontSize": 16, "color": "#333"}, "encoding": {"text": {"field": "lab"}}}
      ]
    }
  ]},
  {
    "width": 1125, "height": 164,
    "data": {"name": "cap"},
    "encoding": {
      "x": {"field": "col", "type": "quantitative", "scale": {"domain": [0, 1]}, "axis": null},
      "y": {"field": "line", "type": "quantitative", "scale": {"domain": [0, 7], "reverse": true}, "axis": null}
    },
    "layer": [
      {"transform": [{"filter": "datum.k == 'b'"}], "mark": {"type": "text", "align": "left", "baseline": "middle", "font": "Liberation Serif", "fontWeight": "bold", "fontSize": 21, "color": "#111"}, "encoding": {"text": {"field": "txt"}}},
      {"transform": [{"filter": "datum.k == 'r1'"}], "mark": {"type": "text", "align": "left", "baseline": "middle", "font": "Liberation Serif", "fontSize": 21, "color": "#111", "dx": 86}, "encoding": {"text": {"field": "txt"}}},
      {"transform": [{"filter": "datum.k == 'n'"}], "mark": {"type": "text", "align": "left", "baseline": "middle", "font": "Liberation Serif", "fontSize": 21, "color": "#111"}, "encoding": {"text": {"field": "txt"}}},
      {"transform": [{"filter": "datum.k == 'q2'"}], "mark": {"type": "text", "align": "left", "baseline": "middle", "font": "Liberation Serif", "fontSize": 21, "color": "#2a86c4", "dx": 77.6}, "encoding": {"text": {"field": "txt"}}},
      {"transform": [{"filter": "datum.k == 's2'"}], "mark": {"type": "text", "align": "left", "baseline": "middle", "font": "Liberation Serif", "fontSize": 21, "color": "#111", "dx": 107.4}, "encoding": {"text": {"field": "txt"}}},
      {"transform": [{"filter": "datum.k == 'q4'"}], "mark": {"type": "text", "align": "left", "baseline": "middle", "font": "Liberation Serif", "fontSize": 21, "color": "#2a86c4", "dx": 364}, "encoding": {"text": {"field": "txt"}}},
      {"transform": [{"filter": "datum.k == 's4'"}], "mark": {"type": "text", "align": "left", "baseline": "middle", "font": "Liberation Serif", "fontSize": 21, "color": "#111", "dx": 393.8}, "encoding": {"text": {"field": "txt"}}}
    ]
  }
]
}
